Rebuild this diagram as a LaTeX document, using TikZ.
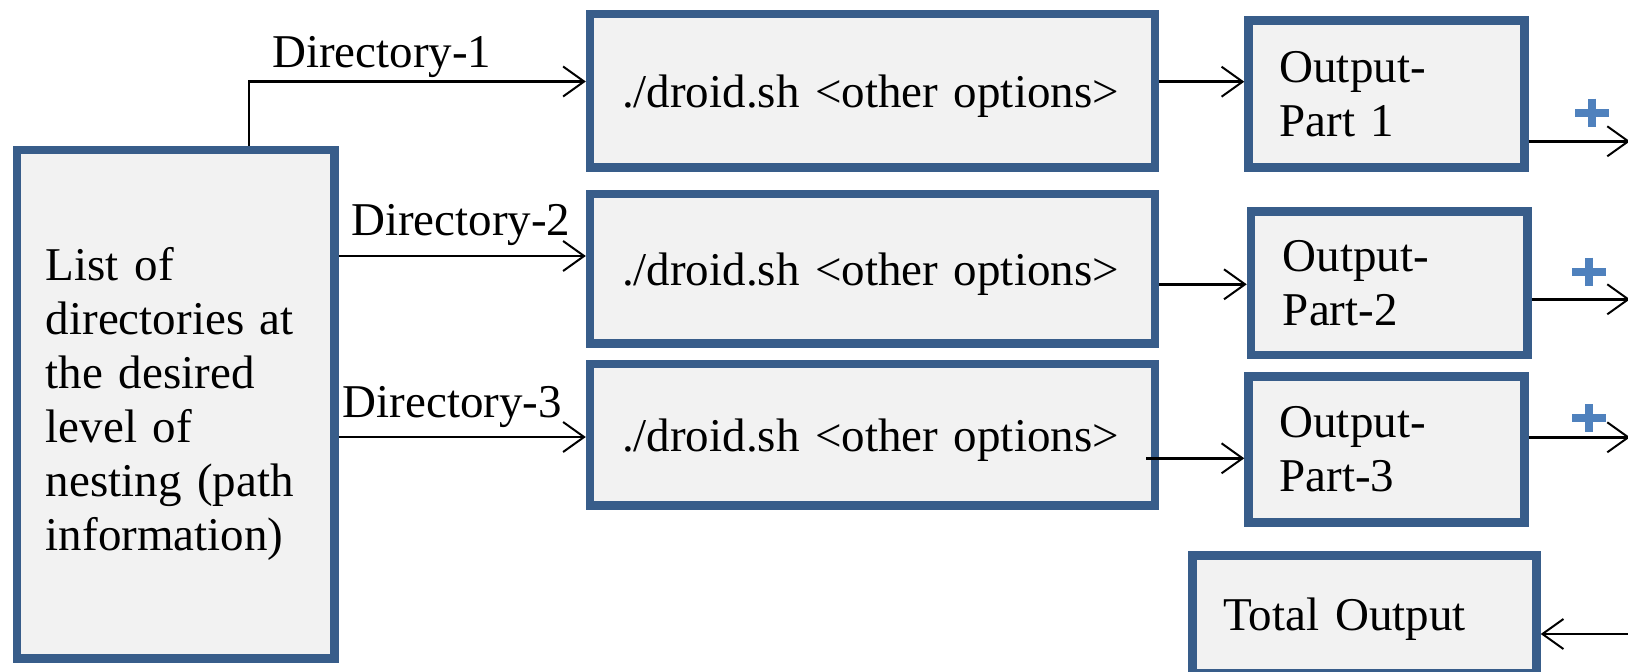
\documentclass[tikz,border=0pt]{standalone}
\usepackage{fontspec}
\setmainfont{Liberation Serif}
\usetikzlibrary{arrows.meta}
\definecolor{boxline}{HTML}{385D8A}
\definecolor{boxfill}{HTML}{F2F2F2}
\definecolor{plusblue}{HTML}{4F81BD}
\tikzset{
	blk/.style={draw=boxline, fill=boxfill, line width=8.4pt, align=left, inner ysep=0pt, font=\fontsize{47}{54}\selectfont},
	flow/.style={line width=2.8pt, -{Straight Barb[length=21pt,width=30pt,line width=2pt]}},
	lbl/.style={font=\fontsize{47}{54}\selectfont, inner sep=0pt, anchor=base west},
	plusmark/.style={draw=plusblue, line width=8pt}
}

\begin{document}
\begin{tikzpicture}[x=1pt,y=-1pt]
				\useasboundingbox (0,0) rectangle (1628,672);
				\clip (0,0) rectangle (1628,672);
				
				\node[blk, minimum width=317.6pt, minimum height=508.3pt, text width=259.6pt, inner xsep=29pt] (list) at (175.7,404.3) {List of\\directories at\\the desired\\level of\\nesting (path\\information)};
				
				\node[blk, minimum width=565pt, minimum height=153.3pt, text width=501pt, inner xsep=32pt, text depth=0pt] (droidA) at (872.5,90.8) {./droid.sh <other options>};
				\node[blk, minimum width=565pt, minimum height=149.3pt, text width=501pt, inner xsep=32pt, text depth=0pt] (droidB) at (872.5,268.8) {./droid.sh <other options>};
				\node[blk, minimum width=565pt, minimum height=141.3pt, text width=501pt, inner xsep=32pt, text depth=0pt] (droidC) at (872.5,434.8) {./droid.sh <other options>};
				
				\node[blk, minimum width=276pt, minimum height=147pt, text width=214pt, inner xsep=31pt] (outA) at (1386.5,94) {Output-\\Part 1};
				\node[blk, minimum width=276.7pt, minimum height=143.5pt, text width=212.7pt, inner xsep=32pt] (outB) at (1389.3,283.3) {Output-\\Part-2};
				\node[blk, minimum width=276pt, minimum height=146pt, text width=214pt, inner xsep=31pt] (outC) at (1386.5,449.5) {Output-\\Part-3};
				
				\node[blk, minimum width=344pt, minimum height=117.5pt, text width=282pt, inner xsep=31pt, text depth=0pt] (total) at (1364.5,614.3) {Total Output};
				
				\draw[flow] ([xshift=73.3pt]list.north) |- (droidA.west |- 0,81.5);
				\draw[flow] (list.east |- 0,256) -- (droidB.west |- 0,256);
				\draw[flow] (list.east |- 0,437) -- (droidC.west |- 0,437);
				
				\node[lbl] (dirA) at (272,67.5) {Directory-1};
				\node[lbl] (dirB) at (351,235.7) {Directory-2};
				\node[lbl] (dirC) at (342.5,417) {Directory-3};
				
				\draw[flow] (droidA.east |- 0,81.7) -- (outA.west |- 0,81.7);
				\draw[flow] (droidB.east |- 0,284.3) -- (outB.west |- 0,284.3);
				\draw[flow] ([xshift=-13pt]droidC.east |- 0,458.3) -- (outC.west |- 0,458.3);
				
				\coordinate (sumA) at (1630,141.3);
				\coordinate (sumB) at (1630,299.3);
				\coordinate (sumC) at (1630,437.3);
				\coordinate (sumT) at (1640,634);
				\draw[flow] (outA.east |- sumA) -- (sumA);
				\draw[flow] (outB.east |- sumB) -- (sumB);
				\draw[flow] (outC.east |- sumC) -- (sumC);
				\draw[flow] (sumT) -- (total.east |- sumT);
				
				\foreach \px/\py in {1592/112.7, 1589/271.7, 1589/418.3}
					\draw[plusmark] (\px-17,\py) -- (\px+17,\py) (\px,\py-14) -- (\px,\py+14);
			\end{tikzpicture}
\end{document}
